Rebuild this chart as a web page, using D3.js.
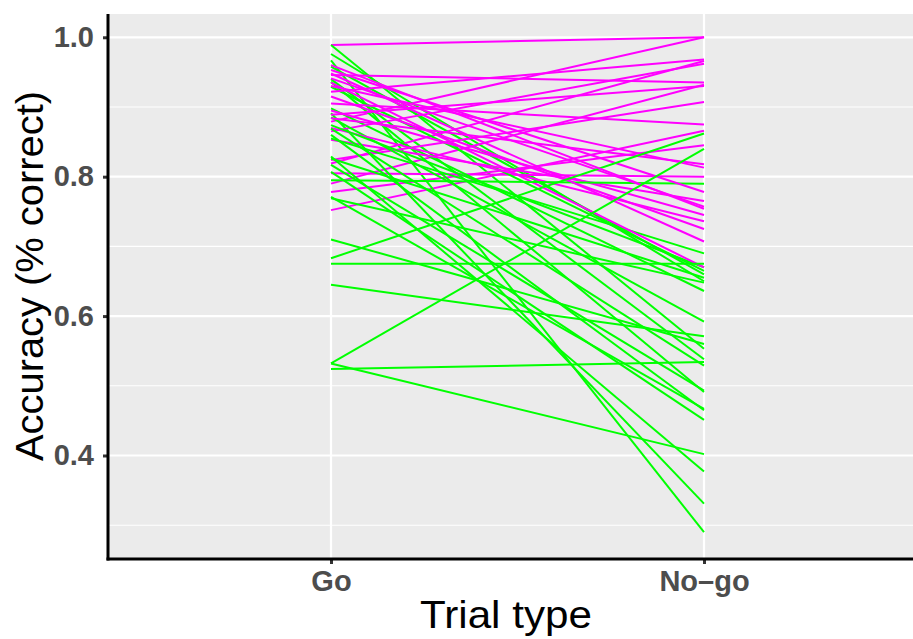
<!DOCTYPE html>
<html>
<head>
<meta charset="utf-8">
<script src="https://cdn.jsdelivr.net/npm/d3@7"></script>
<style>
  html, body { margin: 0; padding: 0; background: #ffffff; }
  svg { display: block; }
</style>
</head>
<body>
<svg id="chart" width="913" height="639"></svg>
<script>
// ---- Data ----
const trialTypes = ["Go", "No-go"];
const yTickValues = [0.4, 0.6, 0.8, 1.0];
const yMinorValues = [0.3, 0.5, 0.7, 0.9];

// Magenta group: accuracy on Go and No-go trials (one entry per participant)
const magentaGo =   [0.989, 0.879, 0.752, 0.778, 0.790, 0.805, 0.819, 0.824, 0.853, 0.865, 0.870, 0.884,
                     0.889, 0.895, 0.905, 0.915, 0.922, 0.930, 0.935, 0.941, 0.946, 0.948, 0.953, 0.960];
const magentaNoGo = [1.000, 1.000, 0.866, 0.845, 0.932, 0.800, 0.966, 0.907, 0.765, 0.962, 0.736, 0.818,
                     0.930, 0.745, 0.875, 0.725, 0.968, 0.813, 0.670, 0.757, 0.935, 0.707, 0.778, 0.754];

// Green group
const greenGo =   [0.989, 0.976, 0.967, 0.958, 0.940, 0.936, 0.929, 0.898, 0.891, 0.885, 0.874, 0.869,
                   0.860, 0.855, 0.829, 0.826, 0.817, 0.807, 0.795, 0.771, 0.769, 0.710, 0.683, 0.675,
                   0.645, 0.532, 0.532, 0.524];
const greenNoGo = [0.553, 0.650, 0.290, 0.660, 0.538, 0.491, 0.665, 0.636, 0.331, 0.592, 0.670, 0.529,
                   0.465, 0.690, 0.377, 0.655, 0.493, 0.451, 0.790, 0.467, 0.648, 0.560, 0.862, 0.675,
                   0.571, 0.840, 0.402, 0.534];

// ---- Layout ----
const svg = d3.select("#chart");
const W = 913, H = 639;
const panel = { left: 108, top: 14, right: 928, bottom: 559 };

const x = d3.scalePoint().domain(trialTypes).range([331, 704]);
const y = d3.scaleLinear().domain([0.2515, 1.0334]).range([panel.bottom, panel.top]);

svg.append("defs").append("clipPath").attr("id", "clip")
  .append("rect")
  .attr("x", panel.left).attr("y", panel.top)
  .attr("width", panel.right - panel.left).attr("height", panel.bottom - panel.top);

// panel background
svg.append("rect")
  .attr("x", panel.left).attr("y", panel.top)
  .attr("width", panel.right - panel.left).attr("height", panel.bottom - panel.top)
  .attr("fill", "#EBEBEB");

const grid = svg.append("g").attr("clip-path", "url(#clip)");
// minor horizontal grid
grid.selectAll("line.minor").data(yMinorValues).enter().append("line")
  .attr("x1", panel.left).attr("x2", panel.right)
  .attr("y1", d => y(d)).attr("y2", d => y(d))
  .attr("stroke", "#ffffff").attr("stroke-width", 1.1);
// major horizontal grid
grid.selectAll("line.major").data(yTickValues).enter().append("line")
  .attr("x1", panel.left).attr("x2", panel.right)
  .attr("y1", d => y(d)).attr("y2", d => y(d))
  .attr("stroke", "#ffffff").attr("stroke-width", 2.2);
// vertical grid
grid.selectAll("line.vx").data(trialTypes).enter().append("line")
  .attr("x1", d => x(d)).attr("x2", d => x(d))
  .attr("y1", panel.top).attr("y2", panel.bottom)
  .attr("stroke", "#ffffff").attr("stroke-width", 2.2);

// ---- Lines (interleaved by participant) ----
const rows = [];
const n = Math.max(magentaGo.length, greenGo.length);
for (let i = 0; i < n; i++) {
  if (i < magentaGo.length) rows.push({ g: magentaGo[i], ng: magentaNoGo[i], c: "#FF00FF" });
  if (i < greenGo.length) rows.push({ g: greenGo[i], ng: greenNoGo[i], c: "#00FF00" });
}
const lineGen = d3.line().x(d => x(d[0])).y(d => y(d[1]));
svg.append("g").attr("clip-path", "url(#clip)")
  .selectAll("path").data(rows).enter().append("path")
  .attr("d", d => lineGen([["Go", d.g], ["No-go", d.ng]]))
  .attr("fill", "none")
  .attr("stroke", d => d.c)
  .attr("stroke-width", 2);

// ---- Axes ----
const yAxis = d3.axisLeft(y).tickValues(yTickValues).tickFormat(d3.format(".1f")).tickSize(5).tickPadding(9);
const gy = svg.append("g").attr("transform", `translate(${panel.left},0)`).call(yAxis);
gy.select(".domain").remove();
gy.selectAll(".tick line").attr("stroke", "#333333").attr("stroke-width", 3);
gy.selectAll(".tick text")
  .attr("fill", "#4D4D4D")
  .style("font-family", "'Liberation Sans', Arial, sans-serif")
  .style("font-weight", "bold").style("font-size", "29px");

const xAxis = d3.axisBottom(x).tickSize(5).tickPadding(6);
const gx = svg.append("g").attr("transform", `translate(0,${panel.bottom})`).call(xAxis);
gx.select(".domain").remove();
gx.selectAll(".tick line").attr("stroke", "#333333").attr("stroke-width", 3);
gx.selectAll(".tick text")
  .attr("fill", "#4D4D4D")
  .text(d => d.replace("-", "\u2013"))
  .style("font-family", "'Liberation Sans', Arial, sans-serif")
  .style("font-weight", "bold").style("font-size", "29px");

// axis lines
svg.append("line")
  .attr("x1", panel.left).attr("x2", panel.left)
  .attr("y1", panel.top).attr("y2", panel.bottom + 1.5)
  .attr("stroke", "#000000").attr("stroke-width", 3);
svg.append("line")
  .attr("x1", panel.left - 1.5).attr("x2", W)
  .attr("y1", panel.bottom).attr("y2", panel.bottom)
  .attr("stroke", "#000000").attr("stroke-width", 3);

// ---- Titles ----
svg.append("text")
  .attr("x", 506).attr("y", 628)
  .attr("text-anchor", "middle")
  .attr("textLength", 172).attr("lengthAdjust", "spacingAndGlyphs")
  .style("font-family", "'Liberation Sans', Arial, sans-serif")
  .style("font-size", "39px").attr("fill", "#000")
  .text("Trial type");

svg.append("text")
  .attr("transform", `translate(43,276) rotate(-90)`)
  .attr("text-anchor", "middle")
  .attr("textLength", 370).attr("lengthAdjust", "spacingAndGlyphs")
  .style("font-family", "'Liberation Sans', Arial, sans-serif")
  .style("font-size", "39px").attr("fill", "#000")
  .text("Accuracy (% correct)");
</script>
</body>
</html>
